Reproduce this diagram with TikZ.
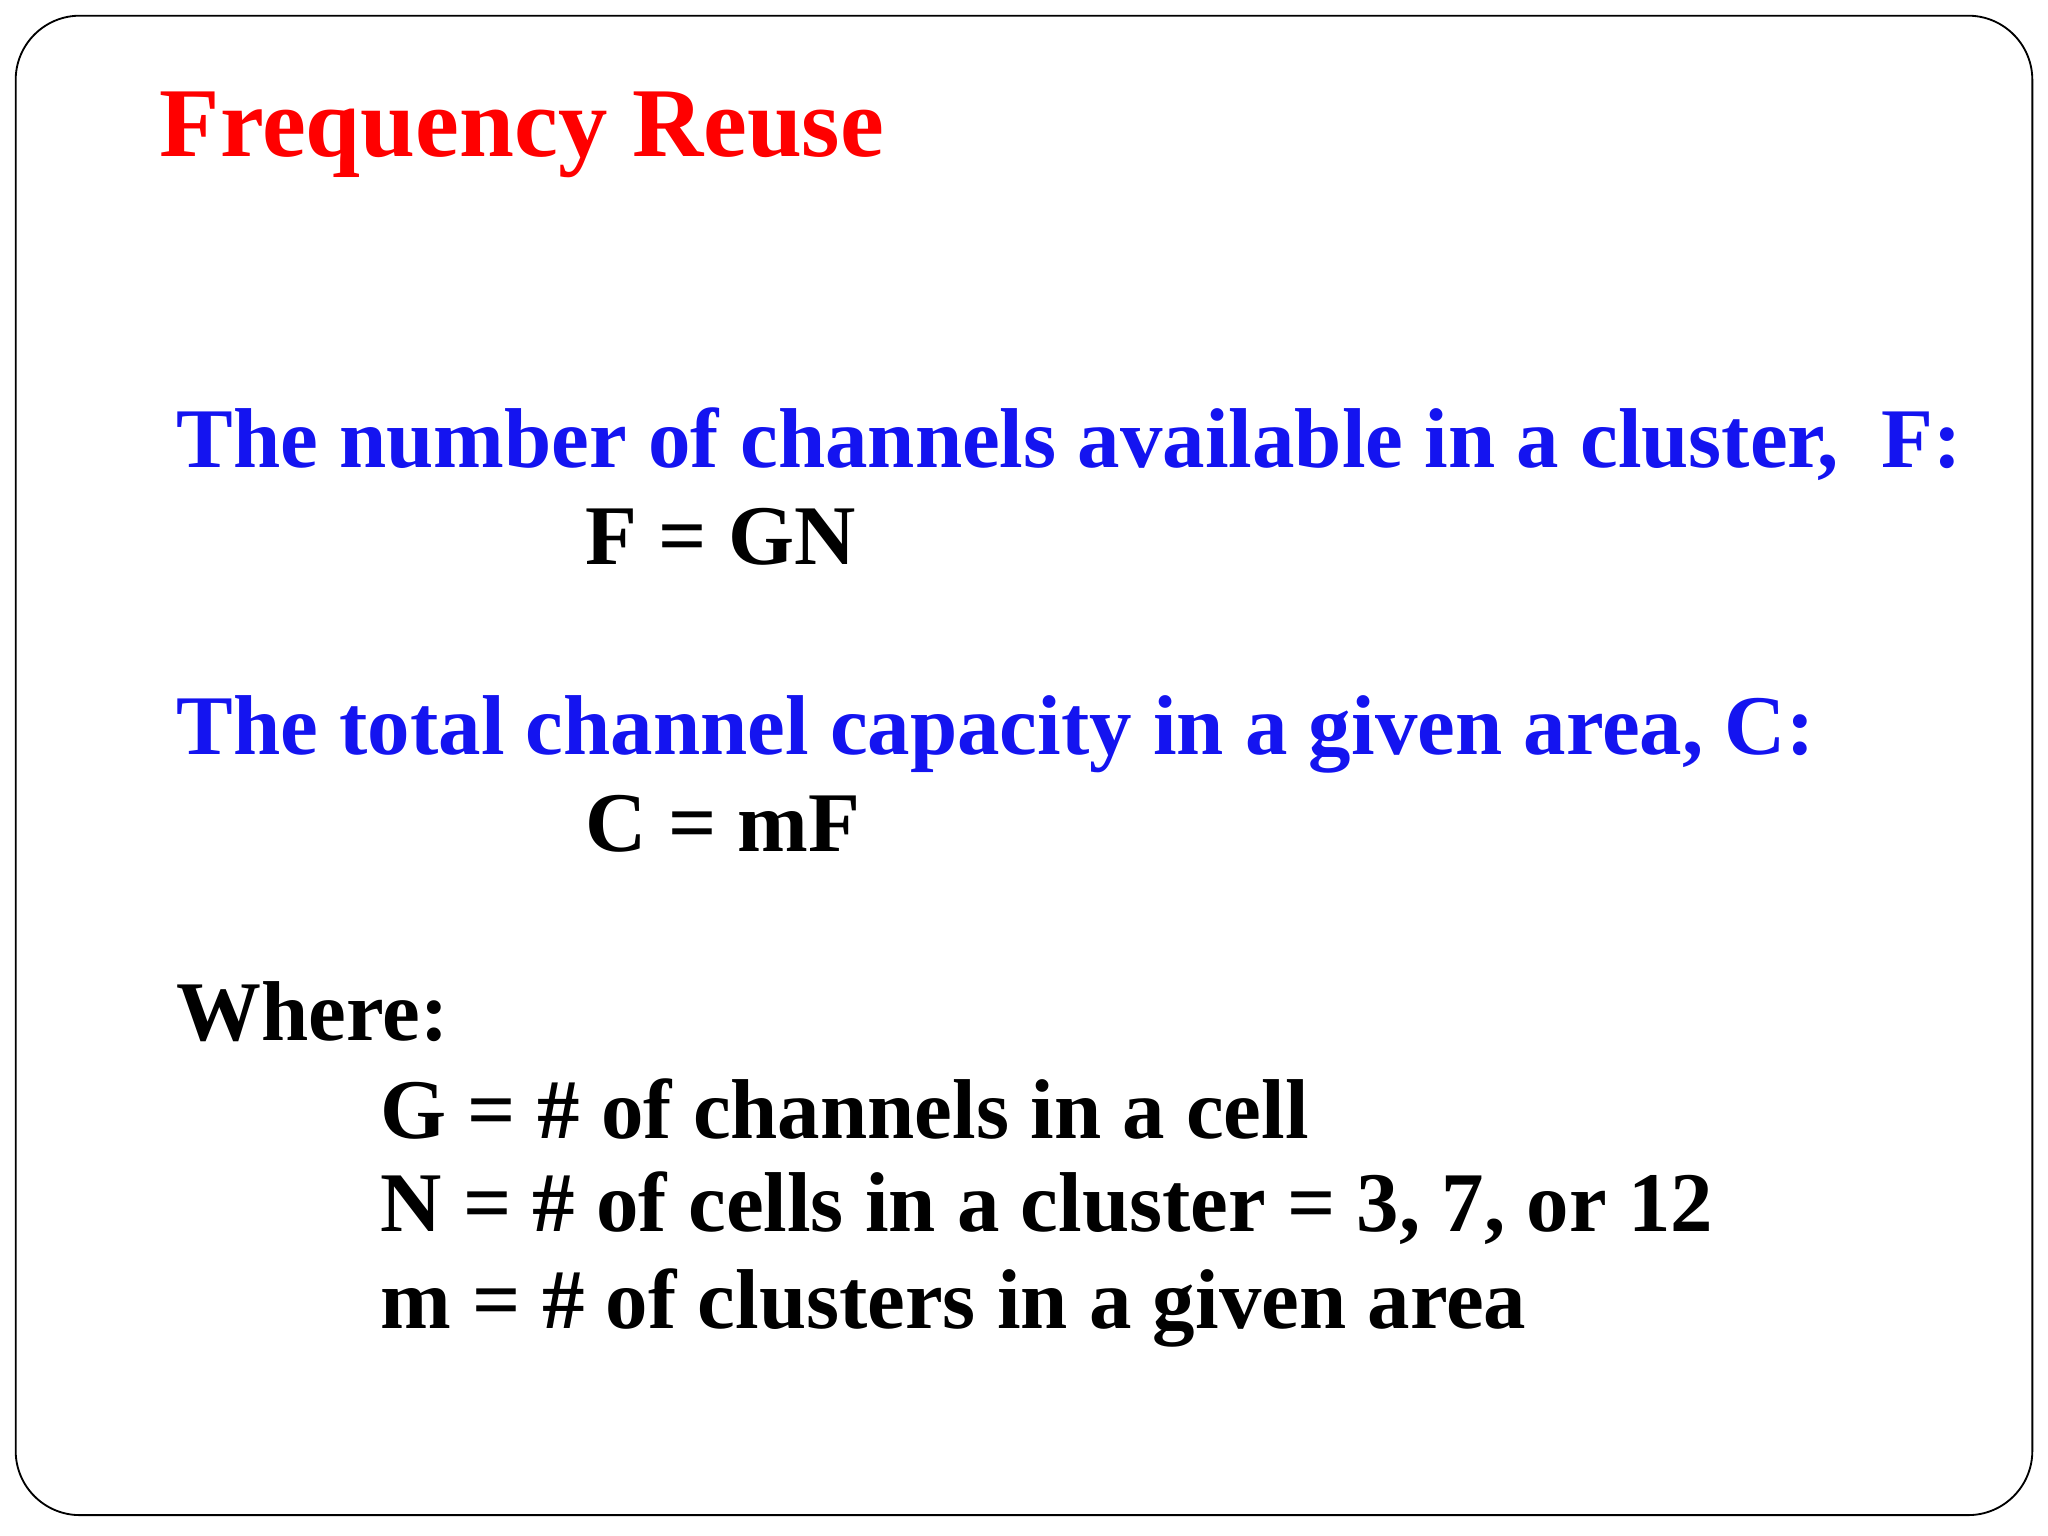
\documentclass[tikz,border=0pt]{standalone}
\usepackage{fontspec}
\setmainfont{Liberation Serif}
\definecolor{tblue}{RGB}{20,20,240}
\begin{document}
\begin{tikzpicture}[x=0.02cm,y=-0.02cm,
  txt/.style={anchor=base west,inner sep=0pt,font=\fontsize{37}{40}\selectfont\bfseries},
  ttl/.style={anchor=base west,inner sep=0pt,font=\fontsize{43}{46}\selectfont\bfseries,text=red},
  blu/.style={txt,text=tblue}]
\useasboundingbox (0,0) rectangle (1568,1176);
\draw[line width=0.8pt,rounded corners=28pt] (12,12) rectangle (1556,1160);
\node[ttl] (t) at (122,120) {Frequency Reuse};
\node[blu] (b1) at (135,358) {The number of channels available in a cluster,\ \ F:};
\node[txt] (e1) at (448,432) {F = GN};
\node[blu] (b2) at (135,578) {The total channel capacity in a given area, C:};
\node[txt] (e2) at (448,652) {C = mF};
\node[txt] (w) at (135,797) {Where:};
\node[txt] (g) at (291,872) {G = \# of channels in a cell};
\node[txt] (n) at (291,943) {N = \# of cells in a cluster = 3, 7, or 12};
\node[txt] (m) at (291,1017) {m = \# of clusters in a given area};
\end{tikzpicture}
\end{document}
